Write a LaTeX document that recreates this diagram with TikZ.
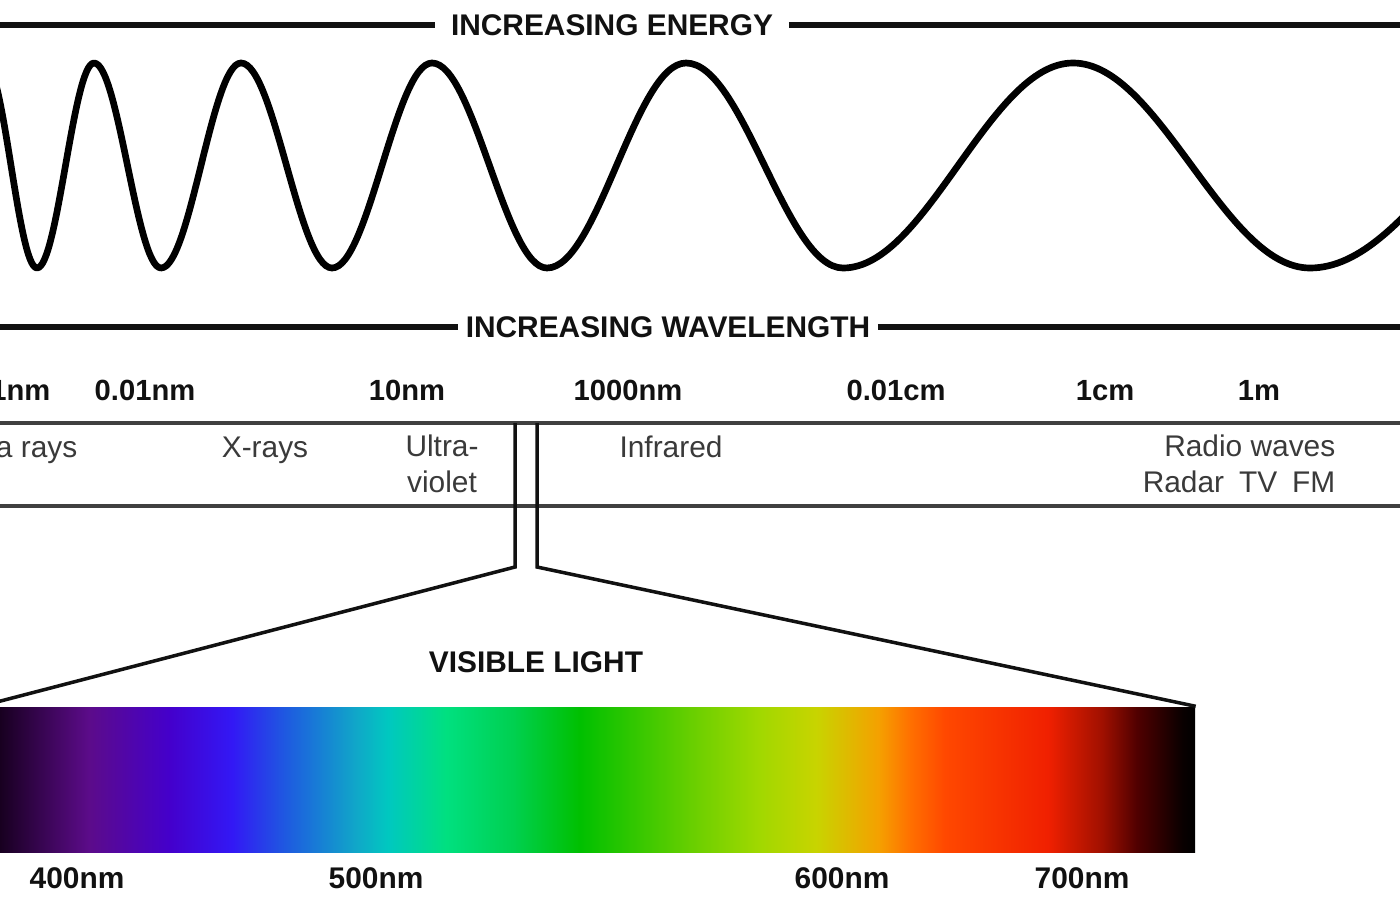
\documentclass[tikz,border=0pt]{standalone}
\usepackage{fontspec}
\setmainfont{Liberation Sans}
\usepackage{xcolor}
\definecolor{ink}{HTML}{111111}
\definecolor{labgray}{HTML}{3A3A3A}
\definecolor{bandgray}{HTML}{404040}
% spectrum stops
\definecolor{sp00}{HTML}{0C0010}
\definecolor{sp01}{HTML}{180020}
\definecolor{sp02}{HTML}{5C0B8A}
\definecolor{sp03}{HTML}{4400CC}
\definecolor{sp04}{HTML}{3318F5}
\definecolor{sp05}{HTML}{1E5AE0}
\definecolor{sp06}{HTML}{10A8C8}
\definecolor{sp07}{HTML}{00C8C0}
\definecolor{sp08}{HTML}{00E080}
\definecolor{sp09}{HTML}{00D050}
\definecolor{sp10}{HTML}{00C000}
\definecolor{sp11}{HTML}{70D000}
\definecolor{sp12}{HTML}{A0D800}
\definecolor{sp13}{HTML}{C8D400}
\definecolor{sp14}{HTML}{F5A000}
\definecolor{sp15}{HTML}{FF7000}
\definecolor{sp16}{HTML}{FF4800}
\definecolor{sp17}{HTML}{F02000}
\definecolor{sp18}{HTML}{A01000}
\definecolor{sp19}{HTML}{500000}
\definecolor{sp20}{HTML}{0A0000}
\definecolor{sp21}{HTML}{000000}
\usepackage{tikz}
\pgfdeclarehorizontalshading{visible}{100bp}{color(0bp)=(sp00); color(25bp)=(sp00);
  color(25.78bp)=(sp01); color(29.45bp)=(sp02); color(32.78bp)=(sp03); color(35.34bp)=(sp04);
  color(37.56bp)=(sp05); color(40.49bp)=(sp06); color(41.76bp)=(sp07); color(44.15bp)=(sp08);
  color(46.91bp)=(sp09); color(49.67bp)=(sp10); color(54.61bp)=(sp11); color(57bp)=(sp12);
  color(59.39bp)=(sp13); color(61.98bp)=(sp14); color(63.26bp)=(sp15); color(64.7bp)=(sp16);
  color(68.94bp)=(sp17); color(71.17bp)=(sp18); color(72.61bp)=(sp19); color(74.46bp)=(sp20);
  color(75bp)=(sp21); color(100bp)=(sp21)}
\tikzset{
  head/.style={font=\fontsize{8.5}{10}\selectfont\bfseries,text=ink,inner xsep=4.3pt,inner ysep=0pt},
  wl/.style={font=\fontsize{8.3}{10}\selectfont\bfseries,text=ink,inner sep=0pt,anchor=base},
  band/.style={font=\fontsize{8.5}{10.2}\selectfont,text=labgray,inner sep=0pt},
  rule/.style={draw=ink,line width=1.7pt},
  bandline/.style={draw=bandgray,line width=1.2pt},
  zoomln/.style={draw=ink,line width=1pt,line join=miter},
  wave/.style={draw=black,line width=1.9pt,line join=round},
}

\begin{document}
\begin{tikzpicture}[x=0.1mm,y=-0.1mm]
\path[fill=white,use as bounding box] (0,0) rectangle (1400,900);
\clip (0,0) rectangle (1400,900);
% energy heading
\node[head] (energy) at (612,25) {INCREASING ENERGY};
\coordinate (eL) at (0,25); \coordinate (eR) at (1400,25);
\draw[rule] (eL) -- (energy.west); \draw[rule] (energy.east) -- (eR);
% the wave
\draw[wave] (-15,63) \foreach \xm/\xb/\yb in {11/37/268, 65.5/94/63, 127.5/161/268, 201/241/63,
  286.5/332/268, 382/432/63, 489.5/547/268, 616.5/686/63, 764.5/843/268, 958/1073/63,
  1191.5/1310/268, 1450/1590/63} { cos (\xm,165.5) sin (\xb,\yb) };
% wavelength heading
\node[head,inner xsep=2pt] (wavelen) at (668,327) {INCREASING WAVELENGTH};
\coordinate (wL) at (0,327); \coordinate (wR) at (1400,327);
\draw[rule] (wL) -- (wavelen.west); \draw[rule] (wavelen.east) -- (wR);
% wavelengths
\node[wl,anchor=base east] (w0) at (51,400) {0.0001nm};
\node[wl] (w1) at (145,400) {0.01nm};
\node[wl] (w2) at (407,400) {10nm};
\node[wl] (w3) at (628,400) {1000nm};
\node[wl] (w4) at (896,400) {0.01cm};
\node[wl] (w5) at (1105,400) {1cm};
\node[wl] (w6) at (1259,400) {1m};
% band
\coordinate (bTL) at (0,423); \coordinate (bTR) at (1400,423);
\coordinate (bBL) at (0,506); \coordinate (bBR) at (1400,506);
\draw[bandline] (bTL) -- (bTR); \draw[bandline] (bBL) -- (bBR);
\node[band,anchor=base east] (gamma) at (78,457) {Gamma rays};
\node[band,anchor=base] (xray) at (265,457) {X-rays};
\node[band,anchor=north,align=center] (uv) at (442,434) {Ultra-\\violet};
\node[band,anchor=base] (ir) at (671,457) {Infrared};
\node[band,anchor=north east,align=right] (radio) at (1336,434) {Radio waves\\Radar\enspace TV\enspace FM};
% visible light
\node[head] (vis) at (536,662) {VISIBLE LIGHT};
\node[inner sep=0pt,minimum width=12.14cm,minimum height=1.45cm,shade,shading=visible] (bar) at (588,779.5) {};
\coordinate (kL) at (515,423); \coordinate (kR) at (537,423);
\coordinate (kLb) at (515,567); \coordinate (kRb) at (537,567);
\draw[zoomln] (kL) -- (kLb) -- (bar.north west);
\draw[zoomln] (kR) -- (kRb) -- (bar.north east);
\node[head] (n400) at (77,878) {400nm};
\node[head] (n500) at (376,878) {500nm};
\node[head] (n600) at (842,878) {600nm};
\node[head] (n700) at (1082,878) {700nm};
\end{tikzpicture}
\end{document}
